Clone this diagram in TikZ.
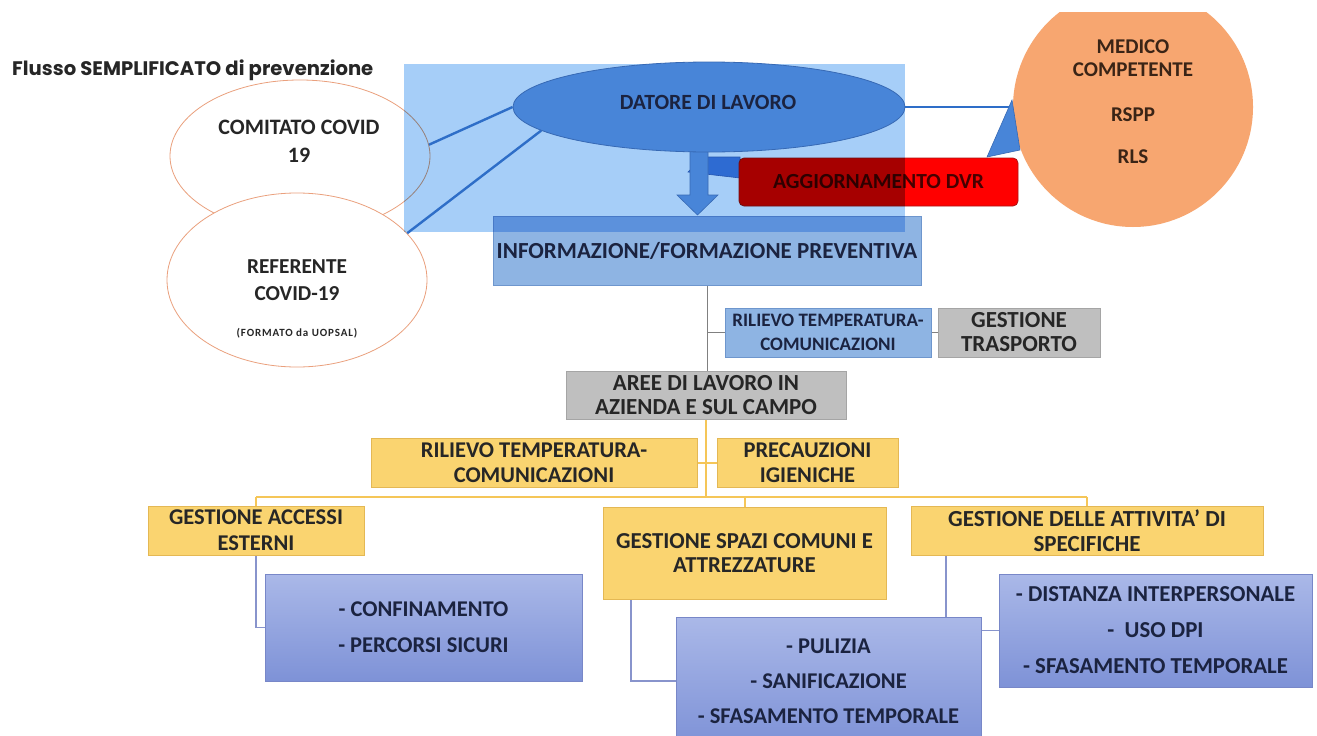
\documentclass[tikz,border=0pt]{standalone}
\usepackage{fontspec}
\setmainfont{Carlito}
\newfontfamily\titlefont{Poppins}
\usetikzlibrary{shapes.geometric,calc}
\pgfdeclarelayer{paper}
\pgfdeclarelayer{bg}
\pgfsetlayers{paper,bg,main}
\newcommand{\myfs}[2]{\fontsize{#1}{#2}\selectfont\bfseries}
\definecolor{txt}{RGB}{38,38,38}
\definecolor{navy}{RGB}{27,35,64}
\definecolor{yfill}{RGB}{250,212,112}
\definecolor{yedge}{RGB}{228,184,84}
\definecolor{gfill}{RGB}{191,191,191}
\definecolor{gedge}{RGB}{165,165,165}
\definecolor{bfill}{RGB}{142,180,227}
\definecolor{bedge}{RGB}{110,150,205}
\definecolor{lavtop}{RGB}{170,184,232}
\definecolor{lavbot}{RGB}{126,146,215}
\definecolor{lavedge}{RGB}{120,135,200}
\definecolor{bgblue}{RGB}{166,206,248}
\definecolor{datfill}{RGB}{72,133,216}
\definecolor{datedge}{RGB}{55,105,180}
\definecolor{blinec}{RGB}{46,110,200}
\definecolor{glinec}{RGB}{128,128,128}
\definecolor{ylinec}{RGB}{245,198,88}
\definecolor{llinec}{RGB}{136,148,204}
\definecolor{redf}{RGB}{255,0,0}
\definecolor{rededge}{RGB}{170,20,20}
\definecolor{dvrtxt}{RGB}{70,0,0}
\definecolor{orangef}{RGB}{247,166,112}
\definecolor{ovaledge}{RGB}{234,160,125}
\definecolor{brownt}{RGB}{58,36,22}
\begin{document}
\begin{tikzpicture}[x=1pt,y=-1pt,
  lbl/.style={inner sep=0pt, align=center, text=txt},
  oval/.style={ellipse, draw=ovaledge, line width=0.8pt, fill=white, inner sep=0pt},
  ybox/.style={rectangle, draw=yedge, line width=0.6pt, fill=yfill, inner sep=0pt, align=center, text=txt},
  gbox/.style={rectangle, draw=gedge, line width=0.6pt, fill=gfill, inner sep=0pt, align=center, text=txt},
  bbox/.style={rectangle, draw=bedge, line width=0.6pt, fill=bfill, inner sep=0pt, align=center, text=navy},
  lbox/.style={rectangle, draw=lavedge, line width=0.6pt, top color=lavtop, bottom color=lavbot, inner sep=0pt, align=center, text=navy},
  gline/.style={draw=glinec, line width=1pt},
  yline/.style={draw=ylinec, line width=2pt},
  lline/.style={draw=llinec, line width=1.6pt},
  bline/.style={draw=blinec, line width=2.4pt},
  blueshape/.style={fill=datfill, draw=datedge, line width=0.6pt},
]
\useasboundingbox (0,0) rectangle (1317,736);
\begin{pgfonlayer}{paper}
\fill[white] (0,0) rectangle (1317,736);
\end{pgfonlayer}

% title
\node[anchor=base west, inner sep=0pt, text=txt] (title) at (12,75) {\titlefont\bfseries\fontsize{19.6}{23}\selectfont Flusso SEMPLIFICATO di prevenzione};

% left ellipses
\node[oval, minimum width=260pt, minimum height=152pt] (comitato) at (300,156) {};
\node[oval, minimum width=260pt, minimum height=174pt] (referente) at (297,280) {};
\node[lbl, font={\myfs{22}{28}}] (comitatoT) at (299,141) {COMITATO COVID\\19};
\node[lbl, font={\myfs{21.3}{27}}] (referenteT) at (297,280) {REFERENTE\\COVID-19};
\node[lbl, font={\myfs{11}{13}\addfontfeature{LetterSpace=8}}] (formatoT) at (297,333) {(FORMATO da UOPSAL)};

% information box, DVR
\node[bbox, minimum width=428pt, minimum height=69pt, font={\myfs{23}{27}}] (info) at (707,250.5) {INFORMAZIONE/FORMAZIONE PREVENTIVA};
\fill[blueshape] (688,172) -- (703,157) -- (740,157) -- (740,178) -- cycle;
\node[rectangle, rounded corners=5pt, fill=redf, draw=rededge, line width=0.8pt, minimum width=279pt, minimum height=48pt, inner sep=0pt, text=dvrtxt, font={\myfs{21.5}{25}}] (dvr) at (878.5,182) {AGGIORNAMENTO DVR};

% translucent background panel
\begin{scope}[blend mode=multiply]
\node[rectangle, fill=bgblue, minimum width=501pt, minimum height=168pt, inner sep=0pt] (panel) at (654.5,148) {};
\end{scope}

% arrow down
\filldraw[blueshape] (690,145) -- (708,145) -- (708,195) -- (718,195) -- (697.5,215) -- (677,195) -- (690,195) -- cycle;

% datore
\node[ellipse, fill=datfill, draw=datedge, line width=0.8pt, minimum width=392pt, minimum height=90pt, inner sep=0pt] (datore) at (709,107) {};
\node[lbl, text=navy, font={\myfs{21.7}{24}}] (datoreT) at (708,102) {DATORE DI LAVORO};

% medico circle
\begin{scope}
\clip (0,12) rectangle (1317,736);
\node[circle, fill=orangef, minimum size=240pt, inner sep=0pt] (medico) at (1133,107) {};
\end{scope}
\node[lbl, text=brownt, font={\myfs{21}{23}}] (medicoT) at (1133,102) {MEDICO\\COMPETENTE\\[22pt]RSPP\\[19pt]RLS};

% blue connectors
\draw[bline] (comitato.5) -- (datore.west);
\draw[bline] (referente.23) -- (datore.188);
\draw[bline] (datore.east) -- (medico.west);
\filldraw[blueshape] (987,157) -- (1012,100) -- (1020,150) -- cycle;

% lower boxes
\node[bbox, minimum width=206pt, minimum height=49pt, font={\myfs{19}{24}}] (rilB) at (828,332.5) {RILIEVO TEMPERATURA-\\COMUNICAZIONI};
\node[gbox, minimum width=162pt, minimum height=49pt, font={\myfs{23}{24}}] (trasp) at (1019,332.5) {GESTIONE\\TRASPORTO};
\node[gbox, minimum width=280pt, minimum height=48pt, font={\myfs{23}{24}}] (aree) at (706,395) {AREE DI LAVORO IN\\AZIENDA E SUL CAMPO};
\node[ybox, minimum width=326pt, minimum height=49pt, font={\myfs{22.5}{25}}] (rilY) at (534,462.5) {RILIEVO TEMPERATURA-\\COMUNICAZIONI};
\node[ybox, minimum width=181pt, minimum height=49pt, font={\myfs{22.5}{25}}] (prec) at (807.5,462.5) {PRECAUZIONI\\IGIENICHE};
\node[ybox, minimum width=216pt, minimum height=49pt, font={\myfs{22.5}{26}}] (acc) at (256,530.5) {GESTIONE ACCESSI\\ESTERNI};
\node[ybox, minimum width=283pt, minimum height=92pt, font={\myfs{22.8}{24}}] (spazi) at (744.5,553) {GESTIONE SPAZI COMUNI E\\ATTREZZATURE};
\node[ybox, minimum width=352pt, minimum height=49pt, font={\myfs{23}{25}}] (attiv) at (1087,530.5) {GESTIONE DELLE ATTIVITA' DI\\SPECIFICHE};
\node[lbox, minimum width=317pt, minimum height=107pt, font={\myfs{22.5}{36}}] (conf) at (423.5,627.5) {- CONFINAMENTO\\- PERCORSI SICURI};
\node[lbox, minimum width=305pt, minimum height=128pt, font={\myfs{22.5}{35}}] (puli) at (828.5,681) {- PULIZIA\\- SANIFICAZIONE\\- SFASAMENTO TEMPORALE};
\node[lbox, minimum width=313pt, minimum height=113pt, font={\myfs{22.8}{36}}] (dist) at (1155.5,630.5) {- DISTANZA INTERPERSONALE\\-\ \ USO DPI\\- SFASAMENTO TEMPORALE};

% connectors behind boxes
\begin{pgfonlayer}{bg}
\draw[gline] (info.south) -- (info.south |- aree.north);
\draw[gline] (info.south |- rilB.west) -- (rilB.west);
\draw[gline] (rilB.east) -- (trasp.west);
\coordinate (bus) at (707,497);
\draw[yline] (aree.south) -- (aree.south |- bus);
\draw[yline] (rilY.east) -- (prec.west);
\draw[yline] (acc.north |- bus) -- (attiv.north |- bus);
\draw[yline] (acc.north |- bus) -- (acc.north);
\draw[yline] (spazi.north |- bus) -- (spazi.north);
\draw[yline] (attiv.north |- bus) -- (attiv.north);
\draw[lline] (acc.south) |- (conf.west);
\draw[lline] ($(spazi.south west)!0.1!(spazi.south east)$) |- (puli.west);
\draw[lline] ($(attiv.south west)!0.1!(attiv.south east)$) |- (dist.west);
\end{pgfonlayer}
\end{tikzpicture}
\end{document}
